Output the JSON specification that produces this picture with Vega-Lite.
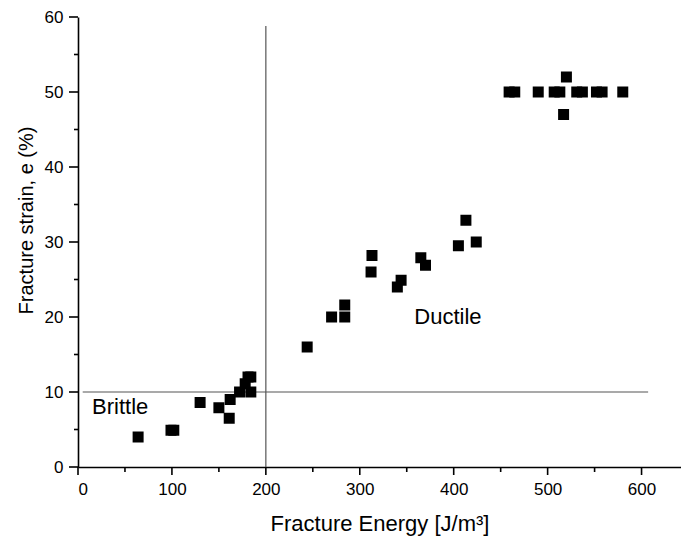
{
  "$schema": "https://vega.github.io/schema/vega-lite/v6.json",
  "autosize": {"type": "none"},
  "padding": {"left": 78, "top": 17, "right": 0, "bottom": 78},
  "width": 603,
  "height": 450,
  "config": {
    "font": "Liberation Sans",
    "view": {"stroke": null},
    "axis": {
      "grid": false,
      "ticks": false,
      "domainColor": "#000000",
      "domainWidth": 1.6,
      "labelColor": "#000000",
      "titleColor": "#000000",
      "labelFont": "Liberation Sans",
      "titleFont": "Liberation Sans",
      "labelFontSize": 17,
      "titleFontWeight": "normal",
      "zindex": 1
    }
  },
  "datasets": {
    "points": [
      {"energy": 64, "strain": 4.0},
      {"energy": 99, "strain": 4.9},
      {"energy": 102, "strain": 4.9},
      {"energy": 130, "strain": 8.6},
      {"energy": 150, "strain": 7.9},
      {"energy": 161, "strain": 6.5},
      {"energy": 162, "strain": 9.0},
      {"energy": 172, "strain": 10.0},
      {"energy": 178, "strain": 11.1},
      {"energy": 181, "strain": 12.0},
      {"energy": 184, "strain": 12.0},
      {"energy": 184, "strain": 10.0},
      {"energy": 244, "strain": 16.0},
      {"energy": 270, "strain": 20.0},
      {"energy": 284, "strain": 20.0},
      {"energy": 284, "strain": 21.6},
      {"energy": 312, "strain": 26.0},
      {"energy": 313, "strain": 28.2},
      {"energy": 340, "strain": 24.0},
      {"energy": 344, "strain": 24.9},
      {"energy": 365, "strain": 27.9},
      {"energy": 370, "strain": 26.9},
      {"energy": 405, "strain": 29.5},
      {"energy": 413, "strain": 32.9},
      {"energy": 424, "strain": 30.0},
      {"energy": 459, "strain": 50.0},
      {"energy": 465, "strain": 50.0},
      {"energy": 490, "strain": 50.0},
      {"energy": 507, "strain": 50.0},
      {"energy": 513, "strain": 50.0},
      {"energy": 520, "strain": 52.0},
      {"energy": 517, "strain": 47.0},
      {"energy": 531, "strain": 50.0},
      {"energy": 537, "strain": 50.0},
      {"energy": 552, "strain": 50.0},
      {"energy": 558, "strain": 50.0},
      {"energy": 580, "strain": 50.0}
    ],
    "dividers": [
      {"x": 200, "x2": 200, "y": 0, "y2": 58.8},
      {"x": 5, "x2": 607, "y": 10, "y2": 10}
    ],
    "regions": [
      {"energy": 15, "strain": 8, "label": "Brittle"},
      {"energy": 358, "strain": 20, "label": "Ductile"}
    ],
    "energyTicks": [
      {"value": 0, "kind": "major"}, {"value": 50, "kind": "minor"},
      {"value": 100, "kind": "major"}, {"value": 150, "kind": "minor"},
      {"value": 200, "kind": "major"}, {"value": 250, "kind": "minor"},
      {"value": 300, "kind": "major"}, {"value": 350, "kind": "minor"},
      {"value": 400, "kind": "major"}, {"value": 450, "kind": "minor"},
      {"value": 500, "kind": "major"}, {"value": 550, "kind": "minor"},
      {"value": 600, "kind": "major"}
    ],
    "strainTicks": [
      {"value": 0, "kind": "major"}, {"value": 5, "kind": "minor"},
      {"value": 10, "kind": "major"}, {"value": 15, "kind": "minor"},
      {"value": 20, "kind": "major"}, {"value": 25, "kind": "minor"},
      {"value": 30, "kind": "major"}, {"value": 35, "kind": "minor"},
      {"value": 40, "kind": "major"}, {"value": 45, "kind": "minor"},
      {"value": 50, "kind": "major"}, {"value": 55, "kind": "minor"},
      {"value": 60, "kind": "major"}
    ]
  },
  "layer": [
    {
      "data": {"name": "dividers"},
      "mark": {"type": "rule", "color": "#555555", "strokeWidth": 1.2},
      "encoding": {
        "x": {
          "field": "x",
          "type": "quantitative",
          "scale": {"domain": [0, 642], "nice": false, "zero": false},
          "axis": {
            "title": "Fracture Energy [J/m³]",
            "titleFontSize": 22,
            "values": [0, 100, 200, 300, 400, 500, 600],
            "labelPadding": 14,
            "titlePadding": 16
          }
        },
        "x2": {"field": "x2"},
        "y": {
          "field": "y",
          "type": "quantitative",
          "scale": {"domain": [0, 60], "nice": false},
          "axis": {
            "title": "Fracture strain, e (%)",
            "titleFontSize": 20,
            "titleY": 203,
            "values": [0, 10, 20, 30, 40, 50, 60],
            "labelPadding": 15,
            "titlePadding": 8
          }
        },
        "y2": {"field": "y2"}
      }
    },
    {
      "data": {"name": "energyTicks"},
      "transform": [{"filter": "datum.kind === 'major'"}],
      "mark": {"type": "tick", "orient": "vertical", "size": 8, "thickness": 1.6, "yOffset": 4, "color": "#000000", "opacity": 1},
      "encoding": {
        "x": {"field": "value", "type": "quantitative"},
        "y": {"datum": 0, "type": "quantitative"}
      }
    },
    {
      "data": {"name": "energyTicks"},
      "transform": [{"filter": "datum.kind === 'minor'"}],
      "mark": {"type": "tick", "orient": "vertical", "size": 5, "thickness": 1.6, "yOffset": 2.5, "color": "#000000", "opacity": 1},
      "encoding": {
        "x": {"field": "value", "type": "quantitative"},
        "y": {"datum": 0, "type": "quantitative"}
      }
    },
    {
      "data": {"name": "strainTicks"},
      "transform": [{"filter": "datum.kind === 'major'"}],
      "mark": {"type": "tick", "orient": "horizontal", "size": 9, "thickness": 1.6, "xOffset": -4.5, "color": "#000000", "opacity": 1},
      "encoding": {
        "y": {"field": "value", "type": "quantitative"},
        "x": {"datum": 0, "type": "quantitative"}
      }
    },
    {
      "data": {"name": "strainTicks"},
      "transform": [{"filter": "datum.kind === 'minor'"}],
      "mark": {"type": "tick", "orient": "horizontal", "size": 4, "thickness": 1.6, "xOffset": -2, "color": "#000000", "opacity": 1},
      "encoding": {
        "y": {"field": "value", "type": "quantitative"},
        "x": {"datum": 0, "type": "quantitative"}
      }
    },
    {
      "data": {"name": "points"},
      "mark": {"type": "point", "shape": "square", "filled": true, "color": "#000000", "size": 121, "opacity": 1},
      "encoding": {
        "x": {"field": "energy", "type": "quantitative"},
        "y": {"field": "strain", "type": "quantitative"}
      }
    },
    {
      "data": {"name": "regions"},
      "mark": {"type": "text", "align": "left", "baseline": "middle", "fontSize": 22, "color": "#000000", "font": "Liberation Sans"},
      "encoding": {
        "x": {"field": "energy", "type": "quantitative"},
        "y": {"field": "strain", "type": "quantitative"},
        "text": {"field": "label"}
      }
    }
  ]
}
